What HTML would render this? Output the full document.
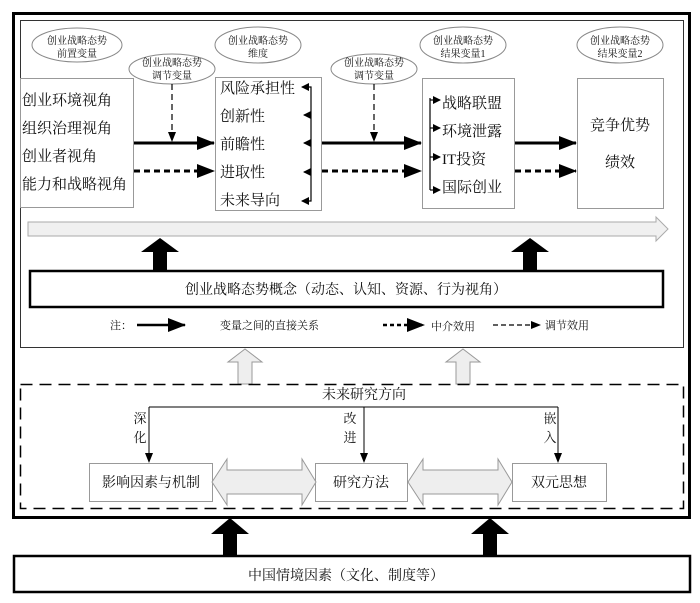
<!DOCTYPE html>
<html><head><meta charset="utf-8"><style>
html,body{margin:0;padding:0;background:#fff}
svg{display:block}
text{font-family:"Liberation Serif","Noto Serif CJK SC","Noto Sans CJK SC",serif;fill:#111}
</style></head><body>
<svg width="700" height="603" viewBox="0 0 700 603" xmlns="http://www.w3.org/2000/svg">
<defs>
<marker id="ah" markerWidth="10" markerHeight="8" refX="9" refY="4" orient="auto" markerUnits="userSpaceOnUse"><path d="M0,0 L10,4 L0,8 z" fill="#000"/></marker>
<marker id="big" markerWidth="18" markerHeight="14" refX="17" refY="7" orient="auto" markerUnits="userSpaceOnUse"><path d="M0,0 L18,7 L0,14 z" fill="#000"/></marker>
<marker id="sm" markerWidth="8" markerHeight="8" refX="7" refY="4" orient="auto" markerUnits="userSpaceOnUse"><path d="M0,0 L8,4 L0,8 z" fill="#000"/></marker>
</defs>
<!-- outer frame -->
<rect x="13.5" y="13.5" width="676" height="504" fill="none" stroke="#000" stroke-width="3"/>
<rect x="20.5" y="20.5" width="663" height="327" fill="none" stroke="#333" stroke-width="1"/>
<!-- ellipses -->
<g fill="#fff" stroke="#888" stroke-width="1">
<ellipse cx="77" cy="45" rx="45" ry="17"/>
<ellipse cx="172" cy="69" rx="43" ry="15"/>
<ellipse cx="258" cy="45" rx="43" ry="18"/>
<ellipse cx="374" cy="69" rx="43" ry="15"/>
<ellipse cx="463" cy="45" rx="43" ry="18"/>
<ellipse cx="620" cy="45" rx="43" ry="18"/>
</g>
<g font-size="10" text-anchor="middle">
<text x="77" y="44">创业战略态势</text><text x="77" y="57">前置变量</text>
<text x="172" y="66">创业战略态势</text><text x="172" y="79">调节变量</text>
<text x="258" y="44">创业战略态势</text><text x="258" y="57">维度</text>
<text x="374" y="66">创业战略态势</text><text x="374" y="79">调节变量</text>
<text x="463" y="44">创业战略态势</text><text x="463" y="57">结果变量1</text>
<text x="620" y="44">创业战略态势</text><text x="620" y="57">结果变量2</text>
</g>
<!-- boxes -->
<g fill="#fff" stroke="#999" stroke-width="1">
<rect x="20.5" y="78.5" width="113" height="129"/>
<rect x="215.5" y="77.5" width="106" height="133"/>
<rect x="422.5" y="78.5" width="92" height="130"/>
<rect x="577.5" y="78.5" width="86" height="130"/>
</g>
<g font-size="15">
<text x="22" y="105">创业环境视角</text>
<text x="22" y="133">组织治理视角</text>
<text x="22" y="161">创业者视角</text>
<text x="22" y="189">能力和战略视角</text>
<text x="220" y="93">风险承担性</text>
<text x="220" y="121">创新性</text>
<text x="220" y="149">前瞻性</text>
<text x="220" y="177">进取性</text>
<text x="220" y="205">未来导向</text>
<text x="442" y="108">战略联盟</text>
<text x="442" y="136">环境泄露</text>
<text x="442" y="164">IT投资</text>
<text x="442" y="192">国际创业</text>
<text x="620" y="130" text-anchor="middle">竞争优势</text>
<text x="620" y="167" text-anchor="middle">绩效</text>
</g>
<!-- brackets -->
<g stroke="#000" stroke-width="1.2" fill="none">
<path d="M306,87 H311 V201 H306"/>
<line x1="311" y1="115" x2="304" y2="115" marker-end="url(#sm)"/>
<line x1="311" y1="143" x2="304" y2="143" marker-end="url(#sm)"/>
<line x1="311" y1="172" x2="304" y2="172" marker-end="url(#sm)"/>
<line x1="306" y1="87" x2="302" y2="87" marker-end="url(#sm)"/>
<line x1="306" y1="201" x2="302" y2="201" marker-end="url(#sm)"/>
<path d="M430,98 V190"/>
<line x1="430" y1="100" x2="440" y2="100" marker-end="url(#sm)"/>
<line x1="430" y1="128" x2="440" y2="128" marker-end="url(#sm)"/>
<line x1="430" y1="157" x2="440" y2="157" marker-end="url(#sm)"/>
<line x1="430" y1="190" x2="440" y2="190" marker-end="url(#sm)"/>
</g>
<!-- main arrows -->
<g stroke="#000" fill="none">
<line x1="134" y1="143" x2="214" y2="143" stroke-width="3" marker-end="url(#big)"/>
<line x1="134" y1="171" x2="214" y2="171" stroke-width="3" stroke-dasharray="6,4" marker-end="url(#big)"/>
<line x1="322" y1="143" x2="421" y2="143" stroke-width="3" marker-end="url(#big)"/>
<line x1="322" y1="171" x2="421" y2="171" stroke-width="3" stroke-dasharray="6,4" marker-end="url(#big)"/>
<line x1="515" y1="143" x2="576" y2="143" stroke-width="3" marker-end="url(#big)"/>
<line x1="515" y1="171" x2="576" y2="171" stroke-width="3" stroke-dasharray="6,4" marker-end="url(#big)"/>
<line x1="172" y1="84" x2="172" y2="141" stroke-width="1.2" stroke-dasharray="6,4" marker-end="url(#ah)"/>
<line x1="374" y1="84" x2="374" y2="141" stroke-width="1.2" stroke-dasharray="6,4" marker-end="url(#ah)"/>
</g>
<!-- gray long arrow -->
<path d="M28,222 H656 V217 L668,229 L656,241 V236 H28 Z" fill="#f0f0f0" stroke="#aaa" stroke-width="1"/>
<!-- black up arrows -->
<path d="M153,271 V252 H141 L160,238 L179,252 H167 V271 Z" fill="#000"/>
<path d="M523,271 V252 H511 L530,238 L549,252 H537 V271 Z" fill="#000"/>
<!-- concept -->
<rect x="30" y="271" width="633" height="36" fill="#fff" stroke="#000" stroke-width="2.5"/>
<text x="346" y="294" font-size="14" text-anchor="middle">创业战略态势概念（动态、认知、资源、行为视角）</text>
<!-- legend -->
<g font-size="11">
<text x="110" y="329">注：</text>
<text x="220" y="329">变量之间的直接关系</text>
<text x="431" y="330">中介效用</text>
<text x="545" y="329">调节效用</text>
</g>
<line x1="137" y1="325" x2="185" y2="325" stroke="#000" stroke-width="2.5" marker-end="url(#big)"/>
<line x1="383" y1="325" x2="424" y2="325" stroke="#000" stroke-width="2.5" stroke-dasharray="4,3" marker-end="url(#big)"/>
<line x1="493" y1="325" x2="540" y2="325" stroke="#000" stroke-width="1.2" stroke-dasharray="5,3" marker-end="url(#ah)"/>
<!-- light arrows -->
<path d="M238,384 V362 H228 L245,349 L262,362 H252 V384 Z" fill="#eee" stroke="#999" stroke-width="1"/>
<path d="M456,384 V362 H446 L463,349 L480,362 H470 V384 Z" fill="#eee" stroke="#999" stroke-width="1"/>
<!-- dashed box -->
<rect x="20.5" y="384.5" width="663" height="124" fill="none" stroke="#000" stroke-width="1.5" stroke-dasharray="12,7"/>
<text x="364" y="399" font-size="14" text-anchor="middle">未来研究方向</text>
<g stroke="#000" stroke-width="1" fill="none">
<path d="M149,407 H558"/>
<line x1="149" y1="407" x2="149" y2="462" marker-end="url(#ah)"/>
<line x1="364" y1="407" x2="364" y2="462" marker-end="url(#ah)"/>
<line x1="558" y1="407" x2="558" y2="462" marker-end="url(#ah)"/>
</g>
<g font-size="13" text-anchor="middle">
<text x="140" y="423">深</text><text x="140" y="442">化</text>
<text x="350" y="423">改</text><text x="350" y="442">进</text>
<text x="550" y="423">嵌</text><text x="550" y="442">入</text>
</g>
<g fill="#fff" stroke="#999" stroke-width="1">
<rect x="89.5" y="463.5" width="123" height="38"/>
<rect x="315.5" y="463.5" width="92" height="38"/>
<rect x="512.5" y="463.5" width="94" height="38"/>
</g>
<g fill="#eee" stroke="#999" stroke-width="1">
<path d="M212,482 L227,459 V470 H302 V459 L316,482 L302,505 V494 H227 V505 Z"/>
<path d="M408,482 L423,459 V470 H498 V459 L512,482 L498,505 V494 H423 V505 Z"/>
</g>
<g font-size="14" text-anchor="middle">
<text x="151" y="487">影响因素与机制</text>
<text x="361" y="487">研究方法</text>
<text x="559" y="487">双元思想</text>
</g>
<!-- bottom black arrows -->
<path d="M223,556 V534 H211 L230,518 L249,534 H237 V556 Z" fill="#000"/>
<path d="M483,556 V534 H471 L490,518 L509,534 H497 V556 Z" fill="#000"/>
<rect x="14" y="556" width="676" height="36" fill="#fff" stroke="#000" stroke-width="2.5"/>
<text x="346" y="580" font-size="14" text-anchor="middle">中国情境因素（文化、制度等）</text>
</svg>
</body></html>
